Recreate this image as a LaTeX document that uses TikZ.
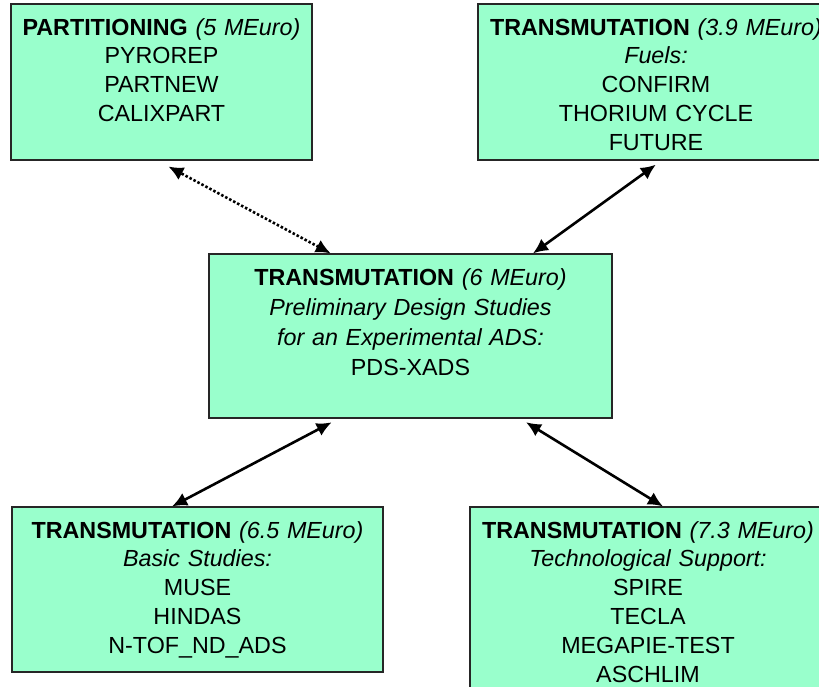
\documentclass[tikz,border=0pt]{standalone}
\usepackage{fontspec}
\setmainfont{Liberation Sans}
\usetikzlibrary{arrows.meta}
\definecolor{mint}{RGB}{153,255,204}
\tikzset{
  fundbox/.style={draw=black!85, line width=1.2pt, fill=mint, rectangle, inner sep=0pt,
    align=center, text height=31pt, font=\fontsize{23.3}{28.8}\selectfont}
}
\tikzset{
  link/.style={{Latex[length=15pt,width=14pt]}-{Latex[length=15pt,width=14pt]}, line width=2.6pt}
}

\begin{document}
\begin{tikzpicture}[x=1pt, y=-1pt]
        \useasboundingbox (0,0) rectangle (819,686);
        % Project boxes, coordinates in pixels of the slide
        \node[fundbox, text width=301pt, text depth=125pt] (partition) at (161.5,82) {\textbf{PARTITIONING} \textit{(5 MEuro)}\\PYROREP\\PARTNEW\\CALIXPART};
        
        \node[fundbox, text width=356pt, text depth=125pt] (fuels) at (656,82) {\textbf{TRANSMUTATION} \textit{(3.9 MEuro)}\\\textit{Fuels:}\\CONFIRM\\THORIUM CYCLE\\FUTURE};
        
        % Central design study
        \node[fundbox, text width=403pt, text depth=133pt, font=\fontsize{23.3}{30}\selectfont] (pds) at (410.5,336) {\textbf{TRANSMUTATION} \textit{(6 MEuro)}\\\textit{Preliminary Design Studies}\\\textit{for an Experimental ADS:}\\PDS-XADS};
        
        \node[fundbox, text width=371pt, text depth=134pt] (basic) at (197.5,589.5) {\textbf{TRANSMUTATION} \textit{(6.5 MEuro)}\\\textit{Basic Studies:}\\MUSE\\HINDAS\\N-TOF\_ND\_ADS};
        
        \node[fundbox, text width=356pt, text depth=157pt] (techsupport) at (648,601) {\textbf{TRANSMUTATION} \textit{(7.3 MEuro)}\\\textit{Technological Support:}\\SPIRE\\TECLA\\MEGAPIE-TEST\\ASCHLIM};
        
        % Links between the projects
        \draw[link, dash pattern=on 2.5pt off 2pt, shorten >=12.5pt] (pds.134.8) -- (partition.267.4);
        \draw[link, shorten >=7pt] (pds.34.9) -- (fuels.274.2);
        \draw[link, shorten <=8pt] (pds.229.3) -- (basic.107.2);
        \draw[link, shorten <=6.9pt] (pds.323.8) -- (techsupport.81.7);
    \end{tikzpicture}
\end{document}
